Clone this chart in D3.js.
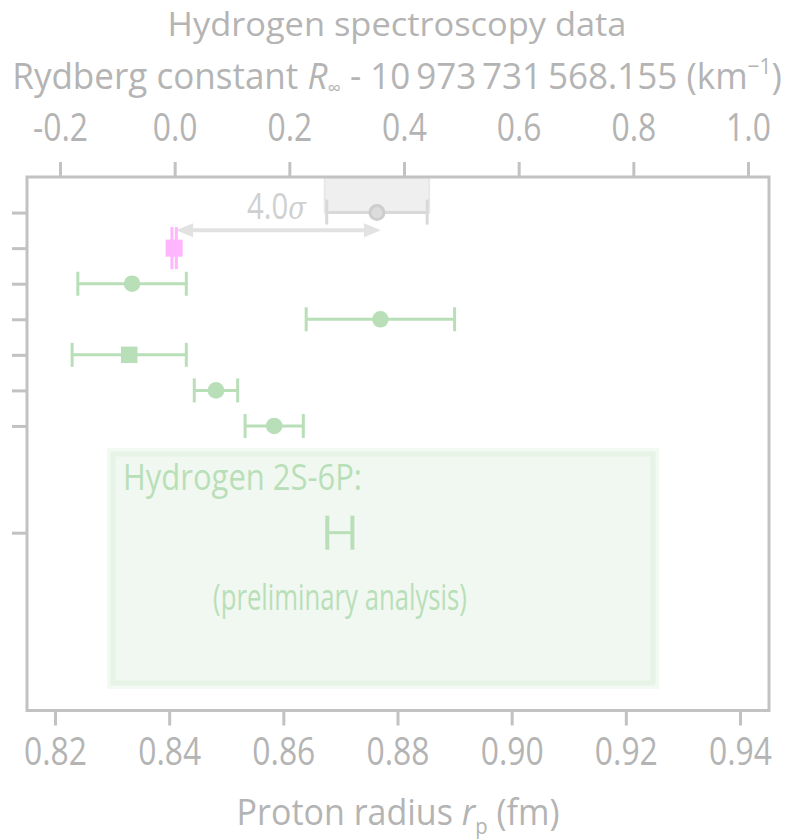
<!DOCTYPE html>
<html><head><meta charset="utf-8">
<script src="https://cdn.jsdelivr.net/npm/d3@7/dist/d3.min.js"></script>
<style>
html,body{margin:0;padding:0;background:#fff;}
text{font-family:"Open Sans","Liberation Sans",sans-serif;}
</style></head>
<body><svg id="c" width="786" height="839"></svg>
<script>
// ---- data ----
const categories = ["H world data", "muonic H", "Beyer 2017", "Fleurbaey 2018", "Bezginov 2019", "Grinin 2020", "Brandt 2022"];
const rowIndex   = [0, 1, 2, 3, 4, 5, 6];
const radius     = [0.8764, 0.84087, 0.8335, 0.8770, 0.8330, 0.8482, 0.8584];
const radiusErr  = [0.0088, 0.00039, 0.0095, 0.0130, 0.0100, 0.0038, 0.0051];
const markers    = ["ring", "square", "circle", "circle", "square", "circle", "circle"];
const groups     = ["gray", "pink", "green", "green", "green", "green", "green"];
const prelimRow = 9, prelimValue = 0.8699, prelimErr = 0.0022;
const leftTickRows = [0, 1, 2, 3, 4, 5, 6, 9];
const bottomTicks = [0.82, 0.84, 0.86, 0.88, 0.90, 0.92, 0.94];
const topTicks = [-0.2, 0.0, 0.2, 0.4, 0.6, 0.8, 1.0];
const sigmaLabel = "4.0";

const axisCol = "#c2c2c2", textCol = "#b4b4b4";
const colors = {gray:"#d4d4d4", pink:"#ffb6ff", green:"#b9dfb9"};

const svg = d3.select("#c");
const L = 27, R = 769, T = 177, B = 710.5;
const x = d3.scaleLinear().domain([0.82, 0.94]).range([55, 740]);
const xt = d3.scaleLinear().domain([-0.2, 1.0]).range([60, 748]);
const y = d3.scaleLinear().domain([-1, 14]).range([T, B]);

// text fitted horizontally to a target width (condensed look)
function fitText(parent, cx, by, width, size, anchor, fill, build) {
  const t = parent.append("text").attr("x", 0).attr("y", 0).attr("font-size", size)
    .attr("text-anchor", anchor).attr("fill", fill);
  build(t);
  const len = t.node().getComputedTextLength();
  t.attr("transform", `translate(${cx},${by}) scale(${width/len},1)`);
  return t;
}

// gray shaded box for world data
svg.append("rect").attr("x", x(radius[0]-radiusErr[0])-2).attr("y", T)
  .attr("width", x(radius[0]+radiusErr[0]) - x(radius[0]-radiusErr[0]) + 4)
  .attr("height", y(0)-T).attr("fill", "#efefef").attr("stroke", "#e8e8e8").attr("stroke-width", 2);

// green box
svg.append("rect").attr("x", 107).attr("y", 448).attr("width", 552).attr("height", 241).attr("fill", "#f3faf3");
svg.append("rect").attr("x", 113).attr("y", 454).attr("width", 540).attr("height", 229)
  .attr("fill", "#f1f8f1").attr("stroke", "#e6f3e6").attr("stroke-width", 5);

// frame
svg.append("rect").attr("x", L).attr("y", T).attr("width", R-L).attr("height", B-T)
  .attr("fill", "none").attr("stroke", axisCol).attr("stroke-width", 3);

// axes
const axB = d3.axisBottom(x).tickValues(bottomTicks).tickFormat(d3.format(".2f")).tickSize(15).tickPadding(13);
const gB = svg.append("g").attr("transform", `translate(0,${B})`).call(axB);
const axT = d3.axisTop(xt).tickValues(topTicks).tickFormat(d3.format(".1f")).tickSize(15).tickPadding(21);
const gT = svg.append("g").attr("transform", `translate(0,${T})`).call(axT);
const axL = d3.axisLeft(y).tickValues(leftTickRows).tickFormat("").tickSize(15);
const gL = svg.append("g").attr("transform", `translate(${L},0)`).call(axL);
gT.selectAll(".tick text").text(d => d < 0 ? "-" + Math.abs(d).toFixed(1) : d.toFixed(1));
[gB, gT, gL].forEach(g => {
  g.select(".domain").remove();
  g.selectAll(".tick line").attr("stroke", axisCol).attr("stroke-width", 3);
  g.selectAll(".tick text").attr("fill", textCol).attr("font-size", 38)
    .attr("font-family", '"Open Sans",sans-serif');
});
// condense tick labels: "0.94" about 63px wide
const refLen = gB.selectAll(".tick text").nodes()[6].getComputedTextLength();
const tickSx = 63 / refLen;
gB.selectAll(".tick text").attr("transform", `scale(${tickSx},1)`);
gT.selectAll(".tick text").attr("transform", `scale(${tickSx},1)`);

// titles
fitText(svg, 397, 35.5, 459, 32.5, "middle", textCol, t => t.text("Hydrogen spectroscopy data"));
fitText(svg, 397, 89, 770, 37, "middle", textCol, t => {
  t.append("tspan").text("Rydberg constant ");
  t.append("tspan").attr("font-style", "italic").text("R");
  t.append("tspan").attr("font-size", 20).attr("dy", 6).text("∞");
  t.append("tspan").attr("dy", -6).text(" - 10\u2009973\u2009731\u2009568.155 (km");
  t.append("tspan").attr("font-size", 22).attr("dy", -15).text("−1");
  t.append("tspan").attr("dy", 15).text(")");
});
fitText(svg, 398, 825, 323, 37, "middle", textCol, t => {
  t.append("tspan").text("Proton radius ");
  t.append("tspan").attr("font-style", "italic").text("r");
  t.append("tspan").attr("font-size", 22).attr("dy", 9).text("p");
  t.append("tspan").attr("dy", -9).text(" (fm)");
});

// arrow between muonic H and world data
const ay = y(0.5);
const ax1 = x(radius[1]) + 2, ax2 = x(radius[0]) + 4;
svg.append("line").attr("x1", ax1+12).attr("x2", ax2-12).attr("y1", ay).attr("y2", ay)
  .attr("stroke", "#e2e2e2").attr("stroke-width", 4);
svg.append("path").attr("d", `M${ax1},${ay} L${ax1+17},${ay-7} L${ax1+17},${ay+7} Z`).attr("fill", "#e2e2e2");
svg.append("path").attr("d", `M${ax2},${ay} L${ax2-17},${ay-7} L${ax2-17},${ay+7} Z`).attr("fill", "#e2e2e2");
fitText(svg, 306, 219, 59, 36, "end", "#d0d0d0", t => {
  t.append("tspan").text(sigmaLabel);
  t.append("tspan").attr("font-style", "italic").attr("font-family", '"DejaVu Serif",serif').attr("font-size", 32).text("σ");
});

// error bars
const data = rowIndex.map((r, i) => ({row: r, v: radius[i], e: radiusErr[i], m: markers[i], g: groups[i]}));
data.forEach(d => {
  const c = d.g === "gray" ? "#d9d9d9" : colors[d.g];
  const cy = y(d.row);
  const capH = d.g === "pink" ? 42 : (d.g === "gray" ? 25 : 24);
  const capY = d.g === "gray" ? cy - 13 : cy - capH/2;
  if (d.g !== "pink") {
    svg.append("line").attr("x1", x(d.v-d.e)).attr("x2", x(d.v+d.e)).attr("y1", cy).attr("y2", cy)
      .attr("stroke", c).attr("stroke-width", 3);
  }
  [d.v-d.e, d.v+d.e].forEach(v => {
    svg.append("line").attr("x1", x(v)).attr("x2", x(v)).attr("y1", capY).attr("y2", capY+capH)
      .attr("stroke", c).attr("stroke-width", 3);
  });
  if (d.m === "circle") {
    svg.append("circle").attr("cx", x(d.v)).attr("cy", cy).attr("r", 8.3).attr("fill", c);
  } else if (d.m === "square") {
    const s = d.g === "pink" ? 17 : 16.5;
    svg.append("rect").attr("x", x(d.v)-s/2).attr("y", cy-s/2).attr("width", s).attr("height", s).attr("fill", c);
  } else if (d.m === "ring") {
    svg.append("circle").attr("cx", x(d.v)).attr("cy", cy).attr("r", 7).attr("fill", "#dcdcdc")
      .attr("stroke", "#cdcdcd").attr("stroke-width", 3);
  }
});

// preliminary 2S-6P (blinded) bar
const py = y(prelimRow);
svg.append("line").attr("x1", x(prelimValue-prelimErr)).attr("x2", x(prelimValue+prelimErr)).attr("y1", py).attr("y2", py)
  .attr("stroke", colors.green).attr("stroke-width", 3);
[prelimValue-prelimErr, prelimValue+prelimErr].forEach(v => {
  svg.append("line").attr("x1", x(v)).attr("x2", x(v)).attr("y1", py-17).attr("y2", py+17)
    .attr("stroke", colors.green).attr("stroke-width", 4);
});
fitText(svg, 123, 490, 239, 36, "start", colors.green, t => t.text("Hydrogen 2S-6P:"));
fitText(svg, 340, 610, 254, 36, "middle", colors.green, t => t.text("(preliminary analysis)"));
</script></body></html>
